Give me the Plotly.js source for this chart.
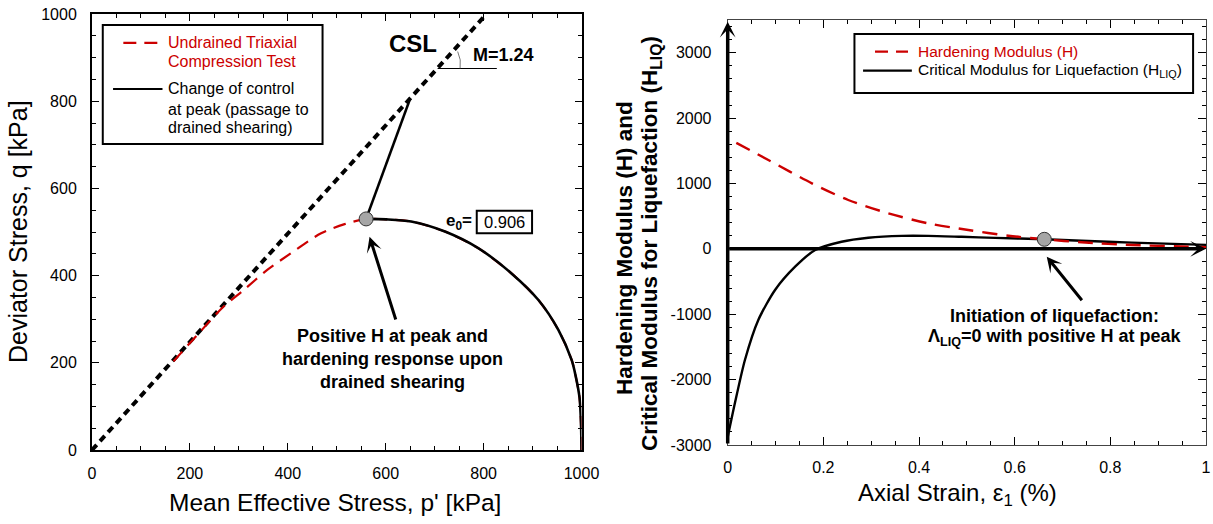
<!DOCTYPE html>
<html><head><meta charset="utf-8">
<script src="https://cdn.plot.ly/plotly-3.0.1.min.js"></script>
<style>html,body{margin:0;padding:0;background:#fff}#chart{width:1213px;height:524px}</style>
</head><body><div id="chart"></div>
<script>
// ---------- Left panel data: q–p' space ----------
const cslP = [0, 806];
const cslQ = [0, 1000];
// undrained triaxial path (starts at p'=1000, rises to peak, collapses along CSL)
const undrainedP = [1000, 999, 996, 988, 980, 953, 912, 857, 789, 721, 652, 601, 560, 516, 468, 406, 358, 310, 269, 220, 163];
const undrainedQ = [0, 60, 120, 170, 206, 275, 344, 405, 463, 501, 524, 529, 530, 518, 497, 451, 413, 367, 329, 270, 199];
// change of control at peak (drained shearing)
const drainedP = [560, 649];
const drainedQ = [530, 803];
const peakP = [560];
const peakQ = [530];
const xTicksLeft = [0, 200, 400, 600, 800, 1000];
const yTicksLeft = [0, 200, 400, 600, 800, 1000];

// ---------- Right panel data: moduli vs axial strain ----------
const strainH = [0.018, 0.085, 0.176, 0.252, 0.336, 0.419, 0.503, 0.587, 0.662, 0.740, 0.845, 0.963, 1.0];
const hardeningH = [1620, 1359, 1002, 747, 543, 390, 288, 201, 146, 100, 59, 33, 25];
const strainL = [0, 0.015, 0.036, 0.064, 0.099, 0.141, 0.183, 0.238, 0.294, 0.364, 0.419, 0.489, 0.559, 0.662, 0.740, 0.845, 1.0];
const criticalHLIQ = [-2880, -2363, -1700, -1088, -629, -273, -18, 109, 170, 199, 199, 184, 168, 146, 124, 95, 60];
const liqStrain = [0.662];
const liqH = [146];
const xTicksRight = [0, 0.2, 0.4, 0.6, 0.8, 1];
const xTickTextRight = ['0', '0.2', '0.4', '0.6', '0.8', '1'];
const yTicksRight = [-3000, -2000, -1000, 0, 1000, 2000, 3000];
const yTickTextRight = ['-3000', '-2000', '-1000', '0', '1000', '2000', '3000'];

const FONT = 'Arial, "Liberation Sans", sans-serif';
const RED = '#cc0000';
const W = 1213, H = 524;
const px = v => v / W, py = v => 1 - v / H;

const peakIdx = undrainedP.indexOf(peakP[0]);

const traces = [
  {x: cslP, y: cslQ, mode: 'lines', line: {color: '#000', width: 4, dash: '7px,5px'}, xaxis: 'x', yaxis: 'y', hoverinfo: 'skip'},
  {x: undrainedP, y: undrainedQ, mode: 'lines', line: {color: RED, width: 2.2, dash: '13px,8px', shape: 'spline', smoothing: 0.8}, xaxis: 'x', yaxis: 'y'},
  {x: undrainedP.slice(0, peakIdx + 1), y: undrainedQ.slice(0, peakIdx + 1), mode: 'lines', line: {color: '#000', width: 2.6, shape: 'spline', smoothing: 0.8}, xaxis: 'x', yaxis: 'y'},
  {x: drainedP, y: drainedQ, mode: 'lines', line: {color: '#000', width: 2.6}, xaxis: 'x', yaxis: 'y'},
  {x: peakP, y: peakQ, mode: 'markers', marker: {size: 14, color: '#a6a6a6', line: {color: '#333', width: 1}}, xaxis: 'x', yaxis: 'y'},
  {x: strainL, y: criticalHLIQ, mode: 'lines', line: {color: '#000', width: 2.4, shape: 'spline', smoothing: 0.7}, xaxis: 'x2', yaxis: 'y2'},
  {x: strainH, y: hardeningH, mode: 'lines', line: {color: RED, width: 2.4, dash: '15px,9px', shape: 'spline', smoothing: 0.8}, xaxis: 'x2', yaxis: 'y2'},
  {x: liqStrain, y: liqH, mode: 'markers', marker: {size: 14, color: '#a6a6a6', line: {color: '#333', width: 1}}, xaxis: 'x2', yaxis: 'y2'}
];

const TICKFONT = {family: FONT, size: 16, color: '#000'};
const axCommon = {showgrid: false, zeroline: false, showline: true, mirror: 'allticks', ticks: 'inside',
  tickcolor: '#000', tickfont: TICKFONT, fixedrange: true, automargin: false};

const layout = {
  width: W, height: H, margin: {l: 0, r: 0, t: 0, b: 0},
  paper_bgcolor: '#fff', plot_bgcolor: '#fff', showlegend: false,
  font: {family: FONT, size: 16, color: '#000'},
  xaxis: Object.assign({}, axCommon, {domain: [px(92), px(581.5)], range: [0, 1000], tickmode: 'array', tickvals: xTicksLeft,
    ticklen: 7, linecolor: '#000', linewidth: 2, ticklabelstandoff: 8,
    minor: {tickmode: 'linear', tick0: 0, dtick: 50, ticklen: 4, ticks: 'inside', tickcolor: '#000'}, anchor: 'y'}),
  yaxis: Object.assign({}, axCommon, {domain: [py(450), py(14)], range: [0, 1000], tickmode: 'array', tickvals: yTicksLeft,
    ticklen: 7, linecolor: '#000', linewidth: 2, ticklabelstandoff: 10,
    minor: {tickmode: 'linear', tick0: 0, dtick: 50, ticklen: 4, ticks: 'inside', tickcolor: '#000'}, anchor: 'x'}),
  xaxis2: Object.assign({}, axCommon, {domain: [px(727.7), px(1206)], range: [0, 1], tickmode: 'array', tickvals: xTicksRight, ticktext: xTickTextRight,
    ticklen: 8, linecolor: '#444', linewidth: 1, ticklabelstandoff: 8,
    minor: {tickmode: 'linear', tick0: 0, dtick: 0.05, ticklen: 4, ticks: 'inside', tickcolor: '#000'}, anchor: 'y2'}),
  yaxis2: Object.assign({}, axCommon, {domain: [py(445), py(20)], range: [-3000, 3500], tickmode: 'array', tickvals: yTicksRight, ticktext: yTickTextRight,
    ticklen: 8, linecolor: '#444', linewidth: 1, ticklabelstandoff: 12,
    minor: {tickmode: 'linear', tick0: 0, dtick: 200, ticklen: 4, ticks: 'inside', tickcolor: '#000'}, anchor: 'x2'}),
  shapes: [
    // left legend
    {type: 'rect', xref: 'x', yref: 'y', x0: 22, x1: 471, y0: 702, y1: 975, line: {color: '#000', width: 2}},
    {type: 'line', xref: 'x', yref: 'y', x0: 64, x1: 135, y0: 934, y1: 934, line: {color: RED, width: 2.2, dash: '13px,8px'}},
    {type: 'line', xref: 'x', yref: 'y', x0: 43, x1: 144, y0: 828, y1: 828, line: {color: '#000', width: 2.2}},
    // M angle indicator
    {type: 'line', xref: 'x', yref: 'y', x0: 706, x1: 827, y0: 875, y1: 875, line: {color: '#000', width: 1}},
    {type: 'path', xref: 'x', yref: 'y', path: 'M747,914 Q755,895 752,875', line: {color: '#555', width: 0.8}},
    // e0 box
    {type: 'rect', xref: 'x', yref: 'y', x0: 786, x1: 899, y0: 497, y1: 549, line: {color: '#000', width: 2}},
    // right legend
    {type: 'rect', xref: 'x2', yref: 'y2', x0: 0.265, x1: 0.973, y0: 2384, y1: 3286, line: {color: '#000', width: 2}},
    {type: 'line', xref: 'x2', yref: 'y2', x0: 0.308, x1: 0.377, y0: 3015, y1: 3015, line: {color: RED, width: 2.2, dash: '13px,8px'}},
    {type: 'line', xref: 'x2', yref: 'y2', x0: 0.283, x1: 0.385, y0: 2725, y1: 2725, line: {color: '#000', width: 2.2}}
  ],
  annotations: []
};

const A = layout.annotations;
function txt(o) { A.push(Object.assign({showarrow: false, xanchor: 'center', yanchor: 'middle', font: {family: FONT, size: 16, color: '#000'}}, o)); }

// axis titles
txt({xref: 'paper', yref: 'paper', x: px(335), y: py(502), text: "Mean Effective Stress, p' [kPa]", font: {family: FONT, size: 24.5, color: '#000'}});
txt({xref: 'paper', yref: 'paper', x: px(18), y: py(232), text: 'Deviator Stress, q [kPa]', textangle: -90, font: {family: FONT, size: 25, color: '#000'}});
txt({xref: 'paper', yref: 'paper', x: px(957), y: py(494), text: 'Axial Strain, ε<sub>1</sub> (%)', font: {family: FONT, size: 24, color: '#000'}});
txt({xref: 'paper', yref: 'paper', x: px(624), y: py(248), textangle: -90,
  text: '<b>Hardening Modulus (H) and</b>', font: {family: FONT, size: 22.5, color: '#000'}});
txt({xref: 'paper', yref: 'paper', x: px(651), y: py(244), textangle: -90,
  text: '<b>Critical Modulus for Liquefaction (H<sub>LIQ</sub>)</b>', font: {family: FONT, size: 22.5, color: '#000'}});

// left legend text
txt({xref: 'x', yref: 'y', x: 152, y: 934, xanchor: 'left', text: 'Undrained Triaxial', font: {family: FONT, size: 16, color: RED}});
txt({xref: 'x', yref: 'y', x: 152, y: 890, xanchor: 'left', text: 'Compression Test', font: {family: FONT, size: 16, color: RED}});
txt({xref: 'x', yref: 'y', x: 152, y: 828, xanchor: 'left', text: 'Change of control'});
txt({xref: 'x', yref: 'y', x: 152, y: 782, xanchor: 'left', text: 'at peak (passage to'});
txt({xref: 'x', yref: 'y', x: 152, y: 739, xanchor: 'left', text: 'drained shearing)'});

// CSL labels
txt({xref: 'x', yref: 'y', x: 656, y: 933, text: '<b>CSL</b>', font: {family: FONT, size: 24, color: '#000'}});
txt({xref: 'x', yref: 'y', x: 840, y: 906, text: '<b>M=1.24</b>', font: {family: FONT, size: 18, color: '#000'}});
// e0
txt({xref: 'x', yref: 'y', x: 749, y: 523, text: '<b>e<sub>0</sub>=</b>', font: {family: FONT, size: 17, color: '#000'}});
txt({xref: 'x', yref: 'y', x: 842, y: 523, text: '0.906', font: {family: FONT, size: 16.5, color: '#000'}});

// left annotation
txt({xref: 'x', yref: 'y', x: 613, y: 261, text: '<b>Positive H at peak and</b>', font: {family: FONT, size: 18, color: '#000'}});
txt({xref: 'x', yref: 'y', x: 613, y: 209, text: '<b>hardening response upon</b>', font: {family: FONT, size: 18, color: '#000'}});
txt({xref: 'x', yref: 'y', x: 613, y: 157, text: '<b>drained shearing</b>', font: {family: FONT, size: 18, color: '#000'}});
A.push({xref: 'x', yref: 'y', axref: 'x', ayref: 'y', x: 567, y: 489, ax: 621.5, ay: 296, text: '', showarrow: true,
  arrowhead: 3, arrowsize: 0.85, arrowwidth: 3, arrowcolor: '#000', standoff: 0});

// right legend text
txt({xref: 'x2', yref: 'y2', x: 0.394, y: 3015, xanchor: 'left', text: 'Hardening Modulus (H)', font: {family: FONT, size: 15.5, color: RED}});
txt({xref: 'x2', yref: 'y2', x: 0.394, y: 2725, xanchor: 'left', text: 'Critical Modulus for Liquefaction (H<sub>LIQ</sub>)', font: {family: FONT, size: 15.5, color: '#000'}});

// right annotation
txt({xref: 'x2', yref: 'y2', x: 0.684, y: -1027, text: '<b>Initiation of liquefaction:</b>', font: {family: FONT, size: 18, color: '#000'}});
txt({xref: 'x2', yref: 'y2', x: 0.684, y: -1363, text: '<b>Λ<sub>LIQ</sub>=0 with positive H at peak</b>', font: {family: FONT, size: 18, color: '#000'}});
A.push({xref: 'x2', yref: 'y2', axref: 'x2', ayref: 'y2', x: 0.667, y: -120, ax: 0.743, ay: -809, text: '', showarrow: true,
  arrowhead: 3, arrowsize: 0.85, arrowwidth: 3, arrowcolor: '#000', standoff: 0});

// right panel thick axes with arrows
A.push({xref: 'x2', yref: 'y2', axref: 'x2', ayref: 'y2', x: 0, y: 3475, ax: 0, ay: -3000, text: '', showarrow: true,
  arrowhead: 3, arrowsize: 0.75, arrowwidth: 3.5, arrowcolor: '#000', standoff: 0});
A.push({xref: 'x2', yref: 'y2', axref: 'x2', ayref: 'y2', x: 1.0, y: 0, ax: 0, ay: 0, text: '', showarrow: true,
  arrowhead: 3, arrowsize: 0.75, arrowwidth: 3.5, arrowcolor: '#000', standoff: 0});

Plotly.newPlot('chart', traces, layout, {displayModeBar: false, staticPlot: true});
</script></body></html>
